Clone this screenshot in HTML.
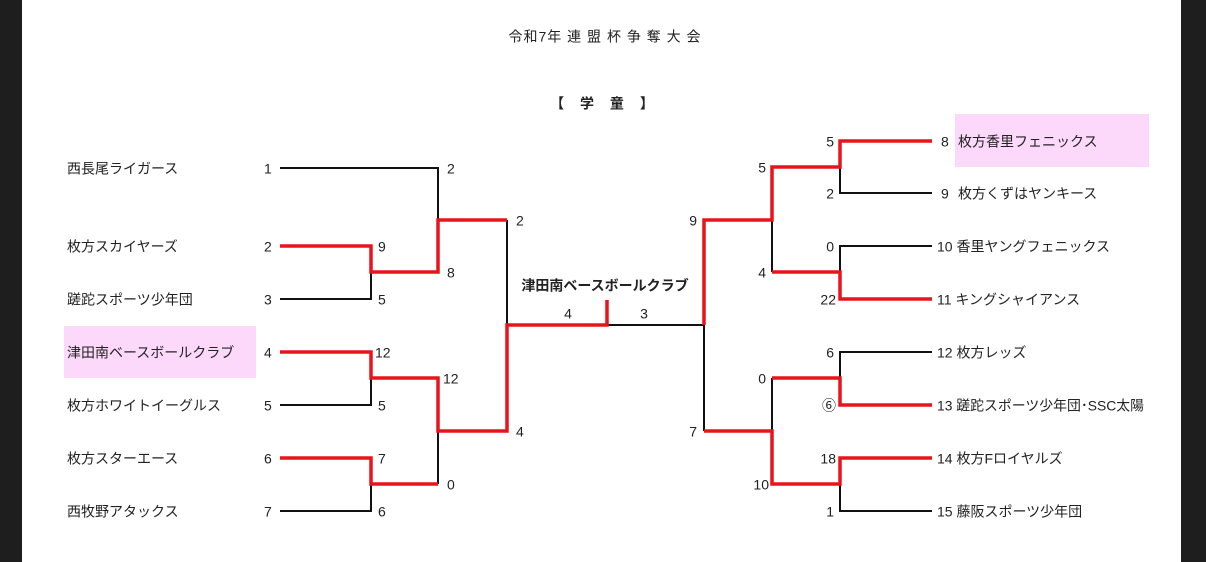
<!DOCTYPE html>
<html><head><meta charset="utf-8"><style>
html,body{margin:0;padding:0;background:#fff}
svg{display:block}
text{font-family:"Liberation Sans","Noto Sans CJK JP",sans-serif;font-size:14px;fill:#222;dominant-baseline:middle}
</style></head><body>
<svg width="1206" height="562" xmlns="http://www.w3.org/2000/svg">
<rect x="0" y="0" width="22" height="562" fill="#1e1e1e"/>
<rect x="1181" y="0" width="25" height="562" fill="#1e1e1e"/>
<rect x="64" y="326" width="192" height="52" fill="#fcd9fa"/>
<rect x="955" y="114" width="194" height="53" fill="#fcd9fa"/>
<g fill="none" stroke="#111" stroke-width="2">
<path d="M280 168H438V220"/>
<path d="M280 299H371V272"/>
<path d="M280 405H371V378"/>
<path d="M280 511H371V484"/>
<path d="M438 431V484"/>
<path d="M507 220V325"/>
<path d="M607 325H704V431"/>
<path d="M932 193H840V167"/>
<path d="M932 246H840V272"/>
<path d="M932 352H840V378"/>
<path d="M932 511H840V484"/>
<path d="M772 220V272"/>
<path d="M772 378V431"/>
</g>
<g fill="none" stroke="#e8141b" stroke-width="3.5">
<path d="M280 246H371V272H438V220H507"/>
<path d="M280 352H371V378H438V431H507V325H607V300"/>
<path d="M280 458H371V484H438"/>
<path d="M932 141H840V167H772V220H704V325"/>
<path d="M932 299H840V272H772"/>
<path d="M932 405H840V378H772"/>
<path d="M932 458H840V484H772V431H704"/>
</g>
<g transform="translate(0,2)">
<text x="605" y="36" text-anchor="middle" letter-spacing="1">令和7年 連 盟 杯 争 奪 大 会</text>
<text x="605" y="103" text-anchor="middle" font-weight="bold" letter-spacing="6">【 学 童 】</text>
<text x="67" y="168">西長尾ライガース</text>
<text x="67" y="246">枚方スカイヤーズ</text>
<text x="67" y="299">蹉跎スポーツ少年団</text>
<text x="67" y="352">津田南ベースボールクラブ</text>
<text x="67" y="405">枚方ホワイトイーグルス</text>
<text x="67" y="458">枚方スターエース</text>
<text x="67" y="511">西牧野アタックス</text>
<text x="264" y="168">1</text><text x="264" y="246">2</text><text x="264" y="299">3</text>
<text x="264" y="352">4</text><text x="264" y="405">5</text><text x="264" y="458">6</text><text x="264" y="511">7</text>
<text x="378" y="246">9</text><text x="378" y="299">5</text><text x="375" y="352">12</text>
<text x="378" y="405">5</text><text x="378" y="458">7</text><text x="378" y="511">6</text>
<text x="447" y="168">2</text><text x="447" y="272">8</text><text x="443" y="378">12</text><text x="447" y="484">0</text>
<text x="516" y="220">2</text><text x="516" y="431">4</text>
<text x="605" y="285" text-anchor="middle" font-weight="bold">津田南ベースボールクラブ</text>
<text x="568" y="313" text-anchor="middle">4</text><text x="644" y="313" text-anchor="middle">3</text>
<text x="697" y="220" text-anchor="end">9</text><text x="697" y="431" text-anchor="end">7</text>
<text x="766" y="167" text-anchor="end">5</text><text x="766" y="272" text-anchor="end">4</text>
<text x="766" y="378" text-anchor="end">0</text><text x="769" y="484" text-anchor="end">10</text>
<text x="834" y="141" text-anchor="end">5</text><text x="834" y="193" text-anchor="end">2</text>
<text x="834" y="246" text-anchor="end">0</text><text x="836" y="299" text-anchor="end">22</text>
<text x="834" y="352" text-anchor="end">6</text><text x="836" y="405" text-anchor="end">⑥</text>
<text x="836" y="458" text-anchor="end">18</text><text x="834" y="511" text-anchor="end">1</text>
<text x="941" y="141">8</text><text x="958" y="141">枚方香里フェニックス</text>
<text x="941" y="193">9</text><text x="958" y="193">枚方くずはヤンキース</text>
<text x="937" y="246">10 香里ヤングフェニックス</text>
<text x="937" y="299">11 キングシャイアンス</text>
<text x="937" y="352">12 枚方レッズ</text>
<text x="937" y="405" textLength="207" lengthAdjust="spacingAndGlyphs">13 蹉跎スポーツ少年団･SSC太陽</text>
<text x="937" y="458">14 枚方Fロイヤルズ</text>
<text x="937" y="511">15 藤阪スポーツ少年団</text>
</g>
</svg>
</body></html>
